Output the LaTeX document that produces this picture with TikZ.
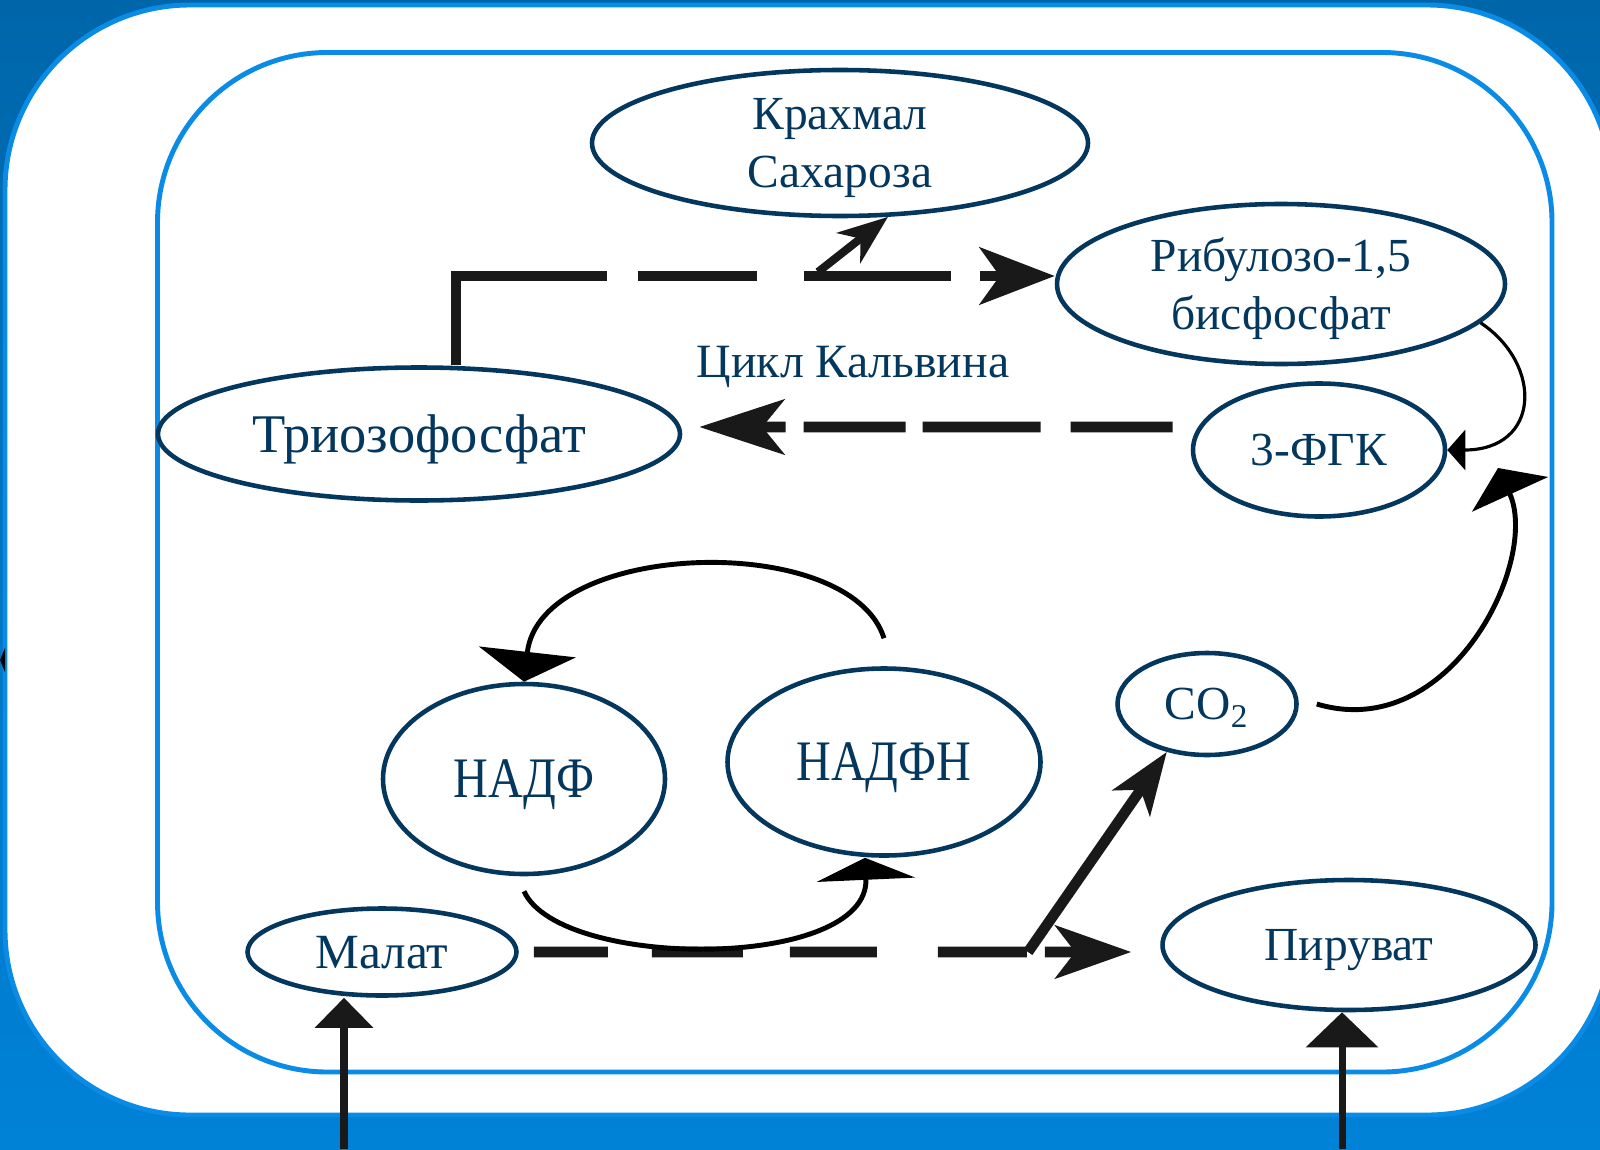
\documentclass[tikz,border=0pt]{standalone}
\usepackage{fontspec}
\setmainfont{Liberation Serif}
\usepackage{graphicx}
\usepackage{tikz}
\usetikzlibrary{arrows.meta,shapes}

\definecolor{navy}{RGB}{4,55,94}
\definecolor{skyline}{RGB}{10,140,230}
\definecolor{deepblue}{RGB}{0,102,170}
\definecolor{paleblue}{RGB}{0,130,215}

\begin{document}
\begin{tikzpicture}[
        pool/.style = {ellipse, draw=navy, line width=1.3pt, text=navy, inner sep=0pt, text depth=0pt, align=center, font=\fontsize{13.5}{16.5}\selectfont},
        flow/.style = {draw=black!90, line width=3pt},
        cycleline/.style = {draw=black, line width=1.4pt},
        feed/.style = {draw=black!90, line width=2pt, -{Triangle[length=0.3cm,width=0.57cm]}}
    ]

    \useasboundingbox (0,0) rectangle (16,-11.49);
    \shade [top color=deepblue, middle color=deepblue, bottom color=paleblue] (0,0) rectangle (16,-11.49);
    \draw [fill=white, draw=skyline, line width=1.4pt, rounded corners=1.85cm] (0.05,-0.05) rectangle (16.12,-11.15);
    \draw [draw=skyline, line width=1.4pt, rounded corners=1.7cm] (1.575,-0.525) rectangle (15.52,-10.72);
    \fill [black] (0,-6.6) -- (0.05,-6.48) -- (0.05,-6.72) -- cycle;

    \node [pool, minimum width=4.96cm, minimum height=1.46cm, inner ysep=-1pt] (starch) at (8.40,-1.43) {Крахмал\\Сахароза};
    \node [pool, minimum width=4.48cm, minimum height=1.60cm] (rib) at (12.81,-2.84) {Рибулозо-1,5\\бисфосфат};
    \node [pool, minimum width=5.22cm, minimum height=1.33cm, font=\fontsize{15.5}{18}\selectfont] (trioz) at (4.19,-4.34) {Триозофосфат};
    \node [pool, minimum width=2.52cm, minimum height=1.33cm] (fgk) at (13.19,-4.50) {3-ФГК};
    \node [pool, minimum width=2.82cm, minimum height=1.90cm, font=\fontsize{16.3}{19}\selectfont] (nadp) at (5.24,-7.79) {\scalebox{0.84}[1]{НАДФ}};
    \node [pool, minimum width=3.13cm, minimum height=1.87cm, font=\fontsize{16.3}{19}\selectfont] (nadph) at (8.84,-7.62) {\scalebox{0.84}[1]{НАДФН}};
    \node [pool, minimum width=1.79cm, minimum height=1.02cm] (co2) at (12.07,-7.04) {CO\textsubscript{2}};
    \node [pool, minimum width=2.69cm, minimum height=0.87cm, font=\fontsize{14}{17}\selectfont] (malat) at (3.82,-9.52) {Малат};
    \node [pool, minimum width=3.73cm, minimum height=1.30cm] (piru) at (13.49,-9.45) {Пируват};
    \node [text=navy, text depth=0pt, font=\fontsize{13.6}{16}\selectfont] (calvin) at (8.53,-3.62) {Цикл Кальвина};

    \coordinate (split) at (8.18,-2.72);
    \coordinate (fork) at (10.28,-9.52);
    \coordinate (co2in) at (14.98,-4.68);
    \coordinate (malin) at (3.44,-11.49);
    \coordinate (piruin) at (13.42,-11.49);

    \path [flow, -{Stealth[length=0.75cm,width=0.57cm,inset=0.2cm]}, dash pattern=on 2.4cm off 0.31cm on 1.19cm off 0.47cm on 1.47cm off 0.29cm] ([xshift=0.37cm]trioz.north) |- ([yshift=0.08cm]rib.west);
    \path [flow, line width=2.3pt, -{Stealth[length=0.5cm,width=0.38cm,inset=0.15cm]}] (split) -- (starch.-57);
    \path [flow, -{Stealth[length=0.85cm,width=0.55cm,inset=0.22cm]}, dash pattern=on 1.02cm off 0.3cm on 1.18cm off 0.17cm on 1.02cm off 0.18cm] ([shift={(-0.18,0.23)}]fgk.west) -- ([shift={(0.17,0.07)}]trioz.east);
    \path [flow, -{Stealth[length=0.76cm,width=0.53cm,inset=0.2cm]}, shorten <=0.15cm, shorten >=0.29cm, dash pattern=on 0.74cm off 0.44cm on 0.91cm off 0.47cm on 0.87cm off 0.61cm on 0.89cm off 0.18cm] (malat.east) -- ([yshift=-0.07cm]piru.west);
    \path [flow, -{Stealth[length=0.62cm,width=0.45cm,inset=0.16cm]}] (fork) -- (co2.-130);

    \path [cycleline, line width=0.9pt, -{Triangle[length=0.18cm,width=0.4cm]}] (rib.-11) .. controls +(0.63,-0.42) and +(0.93,0) .. (fgk.east);
    \path [cycleline, -{Triangle[length=0.29cm,width=0.83cm]}] ([xshift=0.18cm]co2.east) .. controls +(1.34,-0.4) and +(0.42,-0.92) .. (co2in);
    \path [cycleline, -{Triangle[length=0.3cm,width=0.97cm]}] ([yshift=0.28cm]nadph.north) .. controls +(-0.34,1.08) and +(0.16,1.42) .. (nadp.north);
    \path [cycleline, -{Triangle[length=0.22cm,width=0.98cm]}] ([yshift=-0.15cm]nadp.south) .. controls +(0.36,-0.79) and +(0.05,-1.13) .. ([xshift=-0.19cm]nadph.south);

    \path [feed] (malin) -- (malin |- malat.south);
    \path [feed, -{Triangle[length=0.35cm,width=0.71cm]}] (piruin) -- (piruin |- piru.south);

\end{tikzpicture}
\end{document}
